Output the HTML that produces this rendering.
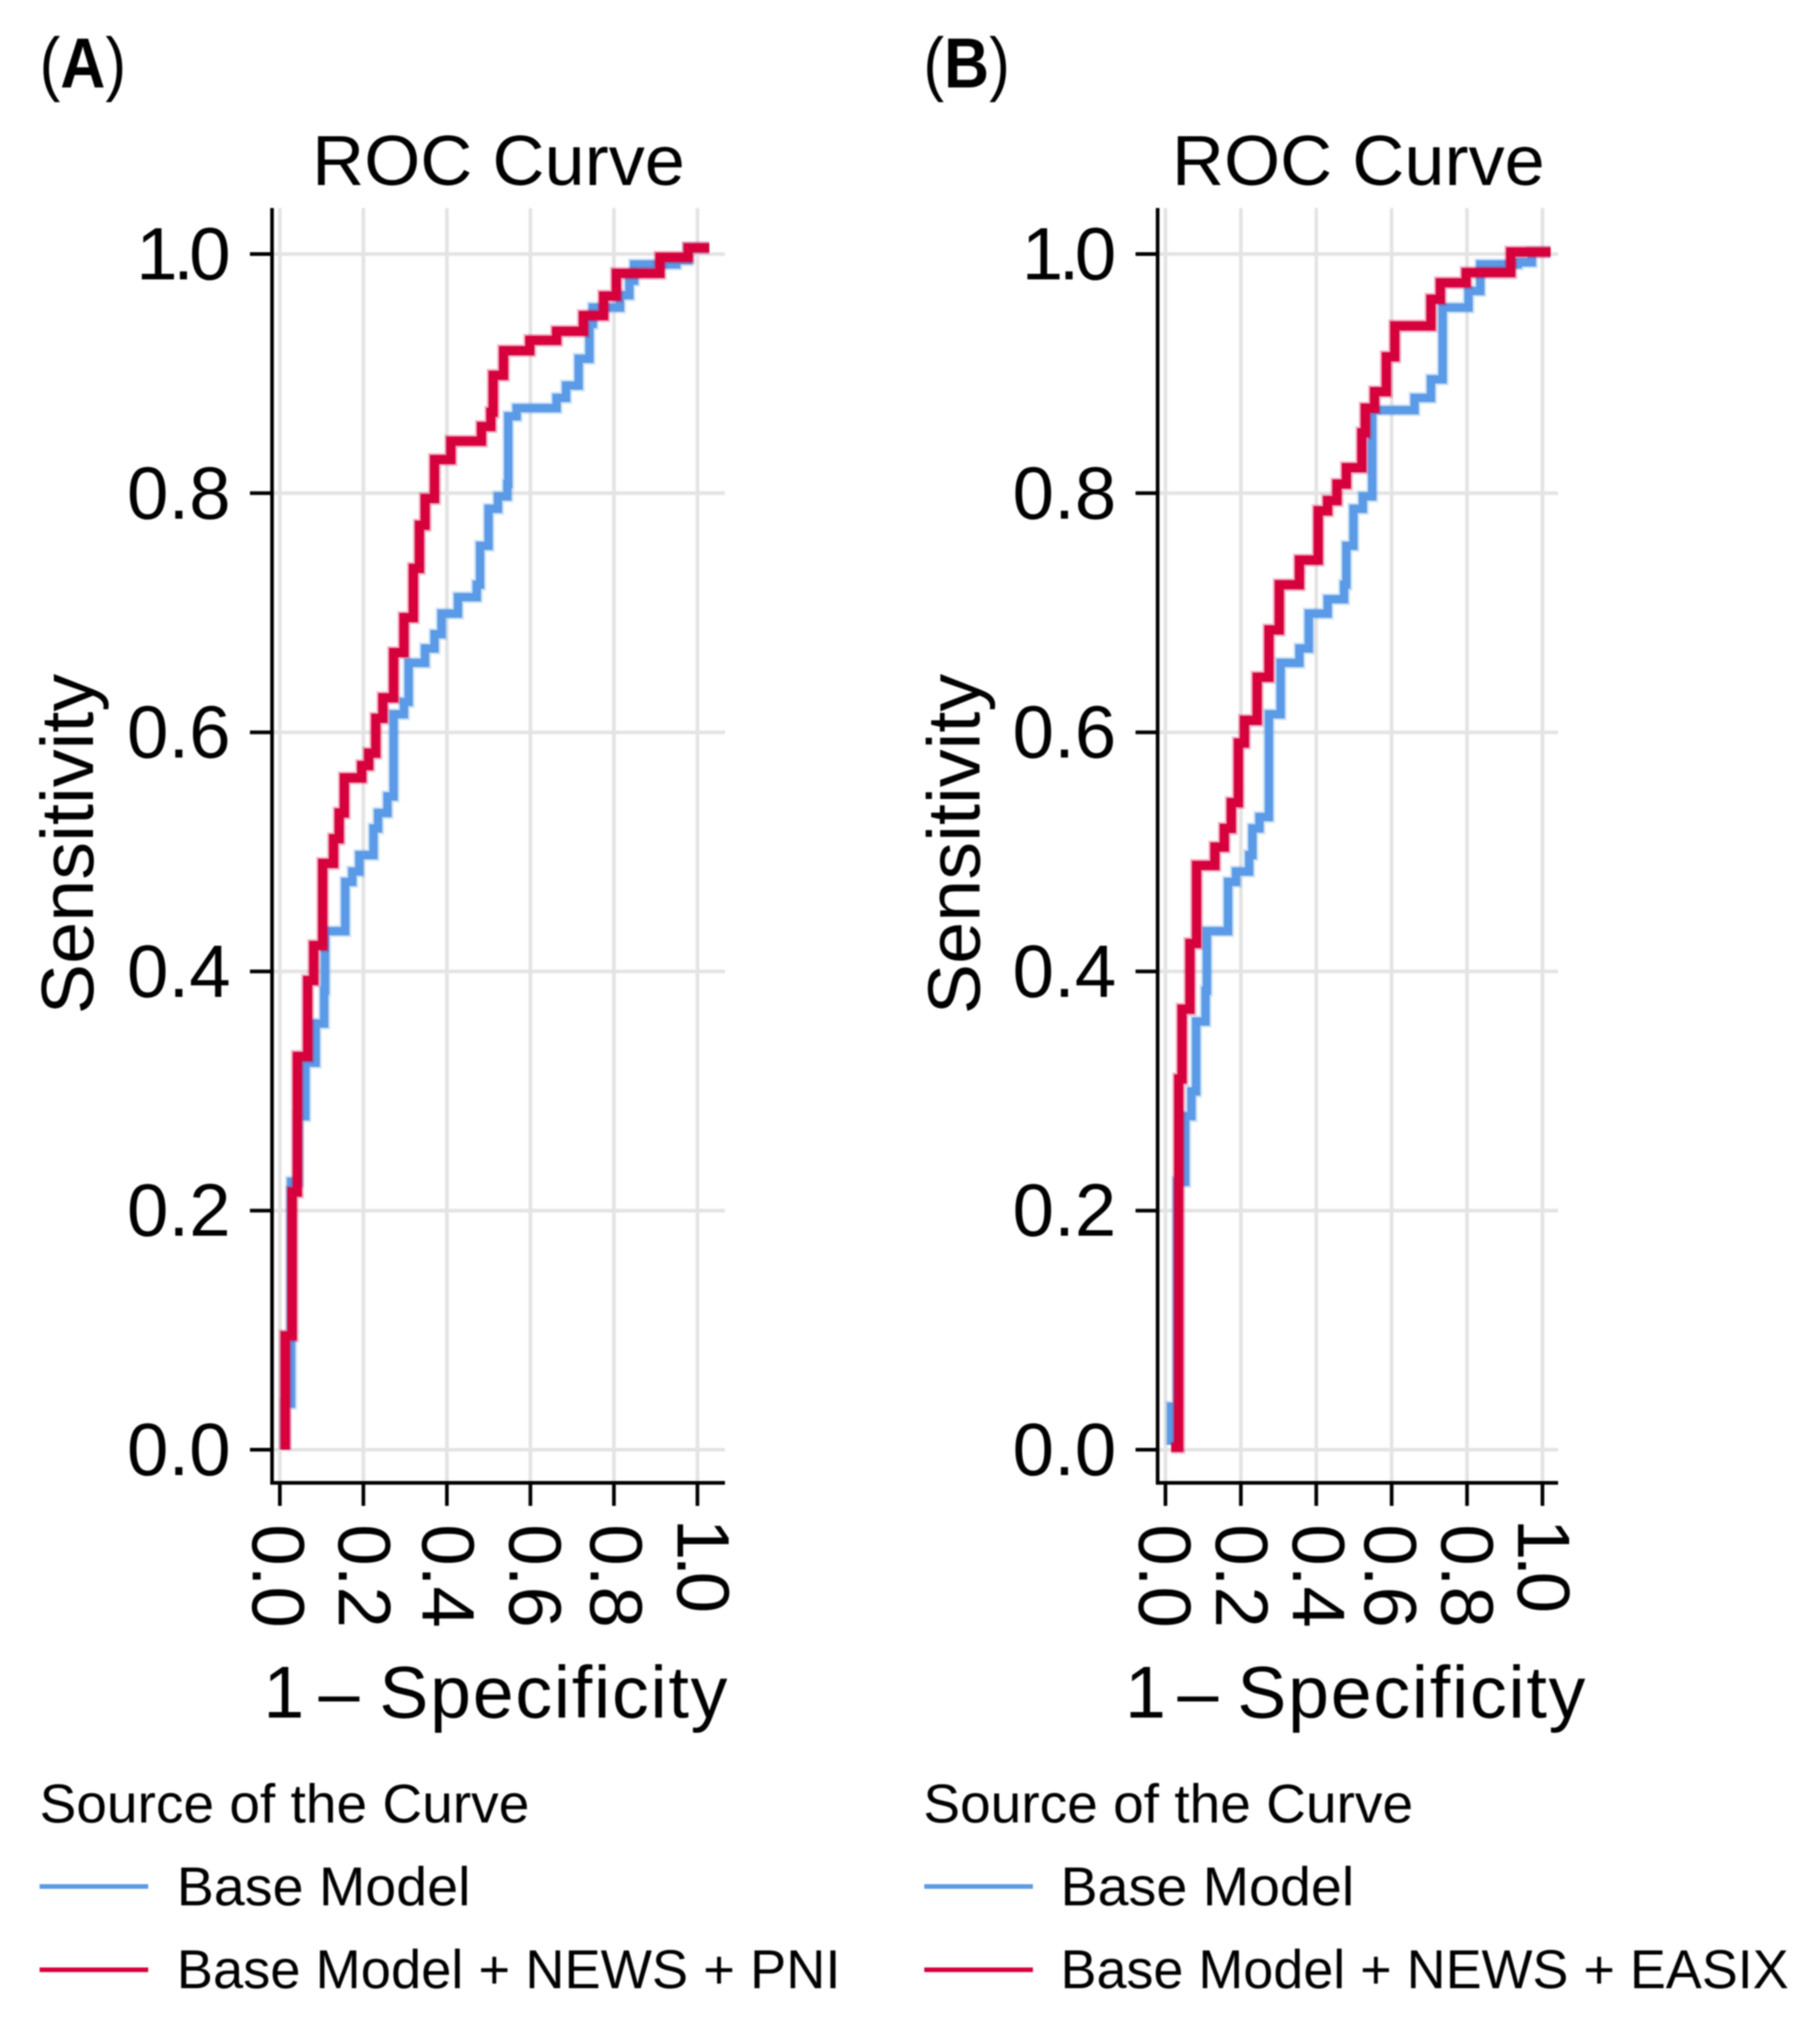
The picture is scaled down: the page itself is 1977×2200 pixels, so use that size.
<!DOCTYPE html>
<html lang="en">
<head>
<meta charset="utf-8">
<title>ROC Curves</title>
<style>
html,body{margin:0;padding:0;background:#fff}
svg{display:block;font-family:"Liberation Sans",Arial,sans-serif;fill:#000;filter:blur(0.9px)}
</style>
</head>
<body>
<svg id="chart" xmlns="http://www.w3.org/2000/svg" width="1977" height="2200" viewBox="0 0 1977 2200">
<rect width="1977" height="2200" fill="#fff"/>
<g id="panel-a"></g>
<g id="panel-b"></g>

<text x="43" y="95" font-size="77" textLength="94" lengthAdjust="spacingAndGlyphs">(<tspan font-weight="700">A</tspan>)</text>
<text x="339" y="201" font-size="77" textLength="405" lengthAdjust="spacingAndGlyphs">ROC Curve</text>
<text transform="translate(101,1102) rotate(-90)" font-size="81" textLength="370" lengthAdjust="spacingAndGlyphs">Sensitivity</text>
<text y="1866" font-size="80"><tspan x="286">1</tspan> <tspan x="346">–</tspan> <tspan x="412" letter-spacing="1.8">Specificity</tspan></text>
<text x="43" y="1980" font-size="59" textLength="532" lengthAdjust="spacingAndGlyphs">Source of the Curve</text>
<line x1="43" x2="161" y1="2049.5" y2="2049.5" stroke="#5a9ae6" stroke-width="5"/>
<text x="192" y="2070" font-size="59" textLength="319" lengthAdjust="spacingAndGlyphs">Base Model</text>
<line x1="43" x2="161" y1="2140" y2="2140" stroke="#d6003c" stroke-width="5"/>
<text x="192" y="2160" font-size="59" textLength="721" lengthAdjust="spacingAndGlyphs">Base Model + NEWS + PNI</text>

<text x="1003" y="95" font-size="77" textLength="94" lengthAdjust="spacingAndGlyphs">(<tspan font-weight="700">B</tspan>)</text>
<text x="1273" y="201" font-size="77" textLength="405" lengthAdjust="spacingAndGlyphs">ROC Curve</text>
<text transform="translate(1064,1102) rotate(-90)" font-size="81" textLength="370" lengthAdjust="spacingAndGlyphs">Sensitivity</text>
<text y="1866" font-size="80"><tspan x="1222">1</tspan> <tspan x="1279">–</tspan> <tspan x="1344" letter-spacing="1.8">Specificity</tspan></text>
<text x="1003" y="1980" font-size="59" textLength="532" lengthAdjust="spacingAndGlyphs">Source of the Curve</text>
<line x1="1004" x2="1122" y1="2049.5" y2="2049.5" stroke="#5a9ae6" stroke-width="5"/>
<text x="1152" y="2070" font-size="59" textLength="319" lengthAdjust="spacingAndGlyphs">Base Model</text>
<line x1="1004" x2="1122" y1="2140" y2="2140" stroke="#d6003c" stroke-width="5"/>
<text x="1152" y="2160" font-size="59" textLength="791" lengthAdjust="spacingAndGlyphs">Base Model + NEWS + EASIX</text>
</svg>

<script>
const tickValues = [0, 0.2, 0.4, 0.6, 0.8, 1.0];
const tickLabels = ["0.0", "0.2", "0.4", "0.6", "0.8", "1.0"];

const baseAFpr = [0.0126,0.0126,0.027,0.0441,0.061,0.0857,0.106,0.1082,0.1566,0.1735,0.1903,0.2241,0.2353,0.2578,0.2724,0.2972,0.3084,0.3477,0.3703,0.3872,0.4266,0.4716,0.4794,0.4997,0.5222,0.5447,0.547,0.5671,0.6628,0.6853,0.7157,0.7415,0.7494,0.8146,0.8371,0.8483,0.9496,0.9778,1.0284];
const baseASens = [0,0.0385,0.2241,0.279,0.3237,0.3564,0.3838,0.4337,0.4749,0.4835,0.4973,0.5196,0.5326,0.5464,0.6151,0.6254,0.6581,0.6701,0.6821,0.6993,0.7131,0.7234,0.756,0.7869,0.7973,0.8076,0.8643,0.8711,0.8797,0.89,0.9124,0.9416,0.9553,0.9656,0.9777,0.9914,0.9948,1.0052,1.0052];

const extAFpr = [0.0127,0.0127,0.0295,0.0418,0.0666,0.0812,0.1026,0.1285,0.142,0.1543,0.196,0.2128,0.2297,0.2466,0.2724,0.2972,0.3197,0.3343,0.3478,0.3703,0.4097,0.4828,0.5053,0.5109,0.5357,0.5986,0.6628,0.7269,0.7753,0.8057,0.9103,0.9778,1.0284];
const extASens = [0,0.0952,0.2155,0.3289,0.3924,0.4216,0.4904,0.511,0.5326,0.5619,0.5722,0.5825,0.6117,0.6289,0.6667,0.6959,0.7371,0.7732,0.7955,0.8282,0.8436,0.8557,0.8677,0.8986,0.9192,0.9278,0.9354,0.9485,0.9649,0.9838,0.9973,1.0052,1.0052];

const baseBFpr = [0.0152,0.0152,0.0314,0.0526,0.0688,0.0812,0.1062,0.1099,0.166,0.1871,0.222,0.2307,0.2494,0.2744,0.2744,0.3055,0.3554,0.3803,0.4302,0.4738,0.4799,0.4986,0.5235,0.5485,0.6607,0.7043,0.7354,0.7354,0.804,0.8351,0.9346,0.9719,1.0218];
const baseBSens = [0.004,0.036,0.224,0.279,0.2997,0.3581,0.3838,0.4337,0.4749,0.4835,0.4973,0.5196,0.5292,0.5498,0.6151,0.6581,0.6701,0.6993,0.7113,0.7234,0.756,0.7869,0.7973,0.8694,0.8797,0.8952,0.9141,0.9553,0.9691,0.9914,0.9931,1.0017,1.0017];

const extBFpr = [0.0152,0.0351,0.0351,0.0439,0.065,0.0825,0.1311,0.156,0.1747,0.1934,0.2096,0.2432,0.2744,0.3018,0.3554,0.4052,0.43,0.455,0.4799,0.521,0.5298,0.5547,0.5858,0.6082,0.7042,0.7291,0.7976,0.9161,1.0218];
const extBSens = [0.002,0.0282,0.31,0.3684,0.4234,0.4887,0.5041,0.5196,0.5412,0.5911,0.61,0.646,0.6856,0.7234,0.744,0.7852,0.7938,0.8076,0.8213,0.8505,0.8711,0.8849,0.9141,0.9399,0.9622,0.9759,0.9845,1.0017,1.0017];

const NS = "http://www.w3.org/2000/svg";

function makeX(x0, x1) { return function (v) { return x0 + v * (x1 - x0); }; }
function yScale(v) { return 1575 - v * 1299; }

function stepPath(fpr, sens, x) {
  let d = "M" + x(fpr[0]).toFixed(1) + " " + yScale(sens[0]).toFixed(1);
  for (let i = 1; i < fpr.length; i++) {
    d += "H" + x(fpr[i]).toFixed(1) + "V" + yScale(sens[i]).toFixed(1);
  }
  return d;
}

function addLine(parent, x1, y1, x2, y2, color, width) {
  const el = document.createElementNS(NS, "line");
  el.setAttribute("x1", x1);
  el.setAttribute("y1", y1);
  el.setAttribute("x2", x2);
  el.setAttribute("y2", y2);
  el.setAttribute("stroke", color);
  el.setAttribute("stroke-width", width);
  parent.appendChild(el);
  return el;
}

function addCurve(parent, d, color, width, opacity) {
  const el = document.createElementNS(NS, "path");
  el.setAttribute("d", d);
  el.setAttribute("fill", "none");
  el.setAttribute("stroke", color);
  el.setAttribute("stroke-width", width);
  el.setAttribute("stroke-opacity", opacity);
  el.setAttribute("stroke-linejoin", "miter");
  parent.appendChild(el);
  return el;
}

function drawPanel(id, axisX, x0, x1, rightEdge, baseFpr, baseSens, extFpr, extSens, labelShift) {
  const g = document.getElementById(id);
  const x = makeX(x0, x1);
  const top = 226, bottom = 1611;

  tickValues.forEach(function (v) {
    const gx = addLine(g, x(v), top, x(v), bottom, "#e4e4e4", 4);
    
    
    const gy = addLine(g, axisX, yScale(v), rightEdge, yScale(v), "#e4e4e4", 4);
    
    
  });

  const basePath = stepPath(baseFpr, baseSens, x);
  const extPath = stepPath(extFpr, extSens, x);
  const baseHalo = addCurve(g, basePath, "#5a9ae6", 13, 0.3);
  
  
  const baseCurve = addCurve(g, basePath, "#5a9ae6", 9, 1);
  
  
  const extHalo = addCurve(g, extPath, "#d6003c", 14, 0.3);
  
  
  const extCurve = addCurve(g, extPath, "#d6003c", 10, 1);
  
  

  const yAxis = addLine(g, axisX, top, axisX, bottom + 2, "#000", 4);
  
  
  const xAxis = addLine(g, axisX - 2, bottom, rightEdge, bottom, "#000", 4);
  
  

  tickValues.forEach(function (v, i) {
    const ty = addLine(g, axisX - 24, yScale(v), axisX, yScale(v), "#000", 4);
    
    
    const tx = addLine(g, x(v), bottom, x(v), 1636, "#000", 4);
    
    

    const narrow = tickLabels[i].charAt(0) === "1";

    const yLabel = document.createElementNS(NS, "text");
    
    
    yLabel.setAttribute("x", axisX - 45 - (narrow ? 5 : 0));
    yLabel.setAttribute("y", yScale(v) + 27.5);
    yLabel.setAttribute("text-anchor", "end");
    yLabel.setAttribute("font-size", "81");
    if (narrow) yLabel.setAttribute("letter-spacing", "-5");
    yLabel.textContent = tickLabels[i];
    g.appendChild(yLabel);

    const xLabel = document.createElementNS(NS, "text");
    
    
    xLabel.setAttribute("transform", "translate(" + (x(v) - 28.5 + labelShift[i]) + "," + (narrow ? 1650 : 1656) + ") rotate(90)");
    xLabel.setAttribute("font-size", "81");
    if (narrow) xLabel.setAttribute("letter-spacing", "-5");
    xLabel.textContent = tickLabels[i];
    g.appendChild(xLabel);
  });
}

drawPanel("panel-a", 295.5, 304, 757.6, 787.5, baseAFpr, baseASens, extAFpr, extASens, [-1, 2, 2, 6, 3, 7]);
drawPanel("panel-b", 1257.5, 1266, 1675.5, 1692.5, baseBFpr, baseBSens, extBFpr, extBSens, [0, 1.5, 3, -0.5, 1, 2]);
</script>
</body>
</html>
